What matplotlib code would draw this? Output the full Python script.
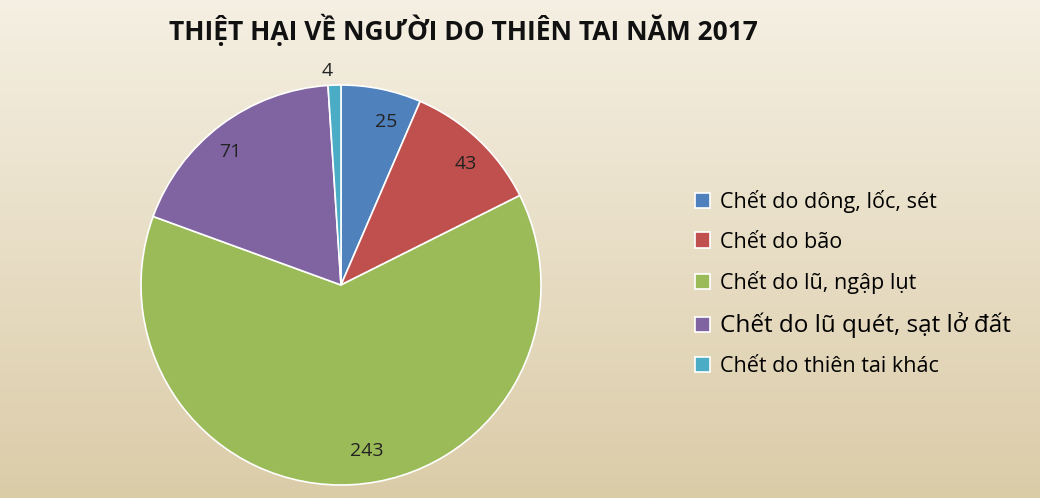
import numpy as np
import matplotlib.pyplot as plt

labels = ['Chết do dông, lốc, sét', 'Chết do bão', 'Chết do lũ, ngập lụt',
          'Chết do lũ quét, sạt lở đất', 'Chết do thiên tai khác']
values = [25, 43, 243, 71, 4]
colors = ['#4f81bd', '#c0504d', '#9bbb59', '#8064a2', '#4bacc6']

plt.rcParams['font.family'] = ['Open Sans', 'DejaVu Sans']

fig = plt.figure(figsize=(10.4, 4.98), dpi=100)

# beige gradient background
bg = fig.add_axes([0, 0, 1, 1], zorder=-1)
top = np.array([0.96, 0.94, 0.89])
bot = np.array([0.86, 0.80, 0.66])
t = np.linspace(0, 1, 256)[:, None, None]
grad = top * (1 - t) + bot * t
grad = np.repeat(grad, 2, axis=1)
bg.imshow(grad, aspect='auto', extent=[0, 1, 0, 1])
bg.axis('off')

ax = fig.add_axes([141 / 1040, 13 / 498, 400 / 1040, 400 / 498])
wedges, texts = ax.pie(values, colors=colors, startangle=90, counterclock=False,
                       labels=[str(v) for v in values], labeldistance=0.83,
                       wedgeprops=dict(edgecolor='white', linewidth=1.2),
                       textprops=dict(fontsize=14, color='#222222'))
texts[4].set_position((-0.04, 1.07))
ax.set_xlim(-1, 1)
ax.set_ylim(-1, 1)
ax.set_aspect('equal')

fig.text(0.446, 0.94, 'THIỆT HẠI VỀ NGƯỜI DO THIÊN TAI NĂM 2017', ha='center', va='center',
         fontsize=19, fontweight='bold', color='#111111')

leg = fig.legend(wedges, labels, loc='center left', bbox_to_anchor=(0.65, 0.43),
                 frameon=False, fontsize=15.5, handlelength=0.7, handleheight=0.7,
                 labelspacing=0.85, handletextpad=0.45)
leg.get_texts()[3].set_fontsize(17.5)

fig.savefig('out.png', dpi=100)
